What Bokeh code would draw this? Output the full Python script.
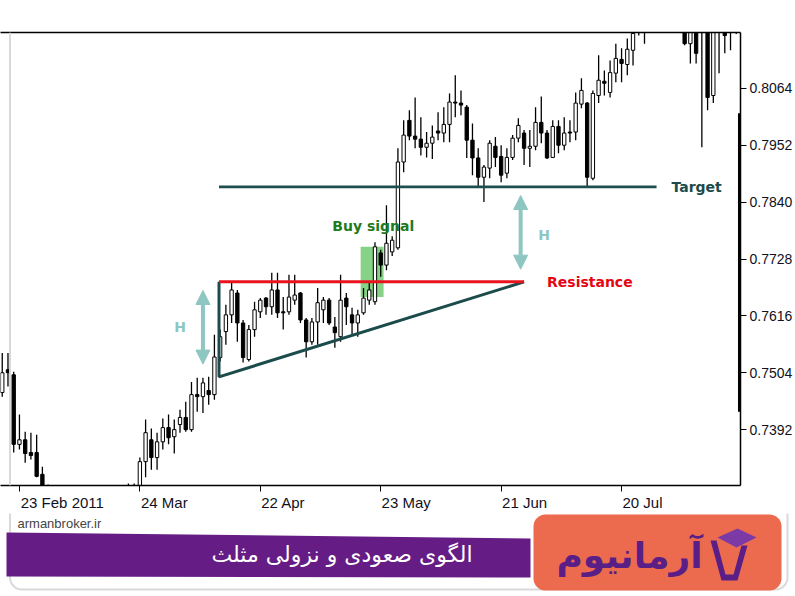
from bokeh.plotting import figure
from bokeh.models import (ColumnDataSource, LinearAxis, FixedTicker, PrintfTickFormatter, Range1d,
                          Label, BoxAnnotation, Span, Arrow, NormalHead)
from bokeh.core.properties import value
from bokeh.embed import file_html
from bokeh.resources import INLINE

# ---------------- data (daily bars, index = trading day from 23 Feb 2011) ----------------
bars = [-3, -2, -1, 0, 1, 2, 3, 4, 5, 19, 20, 21, 22, 23, 24, 25, 26, 27, 28, 29, 30, 31, 32, 33, 34,
        35, 36, 37, 38, 39, 40, 41, 42, 43, 44, 45, 46, 47, 48, 49, 50, 51, 52, 53, 54, 55, 56, 57, 58,
        59, 60, 61, 62, 63, 64, 65, 66, 67, 68, 69, 70, 71, 72, 73, 74, 75, 76, 77, 78, 79, 80, 81, 82,
        83, 84, 85, 86, 87, 88, 89, 90, 91, 92, 93, 94, 95, 96, 97, 98, 99, 100, 101, 102, 103, 104,
        105, 106, 107, 108, 109, 116, 117, 118, 119, 120, 121, 122, 123, 124, 125]
opens = [0.7465, 0.7510, 0.7500, 0.7363, 0.7372, 0.7347, 0.7347, 0.7304, 0.7268, 0.7262, 0.7270, 0.7274,
         0.7329, 0.7372, 0.7337, 0.7368, 0.7396, 0.7378, 0.7402, 0.7416, 0.7392, 0.7461, 0.7457, 0.7469,
         0.7461, 0.7534, 0.7585, 0.7618, 0.7661, 0.7602, 0.7530, 0.7589, 0.7624, 0.7651, 0.7634, 0.7667,
         0.7624, 0.7624, 0.7647, 0.7661, 0.7608, 0.7565, 0.7604, 0.7628, 0.7647, 0.7594, 0.7575, 0.7651,
         0.7618, 0.7602, 0.7622, 0.7647, 0.7644, 0.7740, 0.7716, 0.7742, 0.7750, 0.7919, 0.8001, 0.7970,
         0.7964, 0.7948, 0.7956, 0.7980, 0.7976, 0.7993, 0.8037, 0.8035, 0.8027, 0.7962, 0.7927, 0.7889,
         0.7907, 0.7950, 0.7930, 0.7897, 0.7928, 0.7966, 0.7976, 0.7946, 0.7950, 0.7997, 0.7976, 0.7928,
         0.7989, 0.7952, 0.7978, 0.7978, 0.8033, 0.8035, 0.7887, 0.8050, 0.8078, 0.8056, 0.8094, 0.8121,
         0.8111, 0.8139, 0.8180, 0.8195, 0.8190, 0.8152, 0.8185, 0.8185, 0.8178, 0.8050, 0.8183, 0.8179,
         0.8180, 0.8178]
highs = [0.7543, 0.7543, 0.7506, 0.7422, 0.7388, 0.7386, 0.7382, 0.7319, 0.7284, 0.7286, 0.7286, 0.7337,
         0.7412, 0.7394, 0.7386, 0.7414, 0.7422, 0.7412, 0.7431, 0.7447, 0.7486, 0.7494, 0.7494, 0.7496,
         0.7579, 0.7589, 0.7638, 0.7681, 0.7667, 0.7608, 0.7598, 0.7644, 0.7651, 0.7653, 0.7701, 0.7701,
         0.7653, 0.7697, 0.7697, 0.7663, 0.7612, 0.7612, 0.7671, 0.7653, 0.7651, 0.7614, 0.7697, 0.7661,
         0.7632, 0.7628, 0.7671, 0.7683, 0.7761, 0.7746, 0.7834, 0.7773, 0.7946, 0.8001, 0.8021, 0.8046,
         0.8007, 0.7978, 0.7991, 0.8017, 0.8027, 0.8054, 0.8090, 0.8060, 0.8031, 0.7995, 0.7946, 0.7913,
         0.7962, 0.7968, 0.7952, 0.7946, 0.7972, 0.8005, 0.7982, 0.7982, 0.8027, 0.8048, 0.7982, 0.8001,
         0.8001, 0.8007, 0.8001, 0.8056, 0.8084, 0.8037, 0.8060, 0.8129, 0.8099, 0.8119, 0.8152, 0.8143,
         0.8162, 0.8180, 0.8200, 0.8205, 0.8200, 0.8195, 0.8195, 0.8195, 0.8190, 0.8190, 0.8195, 0.8190,
         0.8192, 0.8190]
lows = [0.7457, 0.7477, 0.7347, 0.7353, 0.7327, 0.7333, 0.7298, 0.7250, 0.7238, 0.7248, 0.7256, 0.7264,
        0.7298, 0.7313, 0.7313, 0.7353, 0.7363, 0.7345, 0.7386, 0.7388, 0.7388, 0.7427, 0.7425, 0.7441,
        0.7451, 0.7526, 0.7559, 0.7602, 0.7565, 0.7524, 0.7526, 0.7575, 0.7612, 0.7618, 0.7618, 0.7612,
        0.7589, 0.7618, 0.7638, 0.7602, 0.7534, 0.7559, 0.7559, 0.7602, 0.7598, 0.7553, 0.7565, 0.7598,
        0.7579, 0.7575, 0.7618, 0.7638, 0.7638, 0.7693, 0.7706, 0.7734, 0.7746, 0.7899, 0.7962, 0.7946,
        0.7932, 0.7928, 0.7925, 0.7962, 0.7958, 0.7958, 0.8007, 0.8011, 0.7927, 0.7893, 0.7868, 0.7840,
        0.7887, 0.7909, 0.7879, 0.7887, 0.7923, 0.7958, 0.7913, 0.7909, 0.7942, 0.7956, 0.7925, 0.7927,
        0.7936, 0.7942, 0.7958, 0.7962, 0.8025, 0.7868, 0.7883, 0.8035, 0.8050, 0.8046, 0.8076, 0.8076,
        0.8090, 0.8109, 0.8168, 0.8152, 0.8149, 0.8113, 0.8113, 0.7948, 0.8021, 0.8035, 0.8094, 0.8133,
        0.8139, 0.8171]
closes = [0.7504, 0.7504, 0.7363, 0.7372, 0.7345, 0.7341, 0.7300, 0.7262, 0.7252, 0.7270, 0.7276, 0.7329,
          0.7386, 0.7337, 0.7368, 0.7396, 0.7376, 0.7392, 0.7416, 0.7392, 0.7461, 0.7457, 0.7484, 0.7461,
          0.7535, 0.7575, 0.7618, 0.7667, 0.7602, 0.7534, 0.7589, 0.7628, 0.7647, 0.7634, 0.7667, 0.7622,
          0.7622, 0.7653, 0.7657, 0.7608, 0.7565, 0.7604, 0.7642, 0.7647, 0.7602, 0.7583, 0.7647, 0.7634,
          0.7602, 0.7618, 0.7651, 0.7667, 0.7752, 0.7716, 0.7759, 0.7765, 0.7919, 0.7972, 0.7970, 0.7964,
          0.7948, 0.7956, 0.7968, 0.7976, 0.7993, 0.8037, 0.8035, 0.8031, 0.7962, 0.7927, 0.7889, 0.7909,
          0.7956, 0.7928, 0.7893, 0.7928, 0.7966, 0.7991, 0.7946, 0.7950, 0.7997, 0.7976, 0.7927, 0.7989,
          0.7952, 0.7976, 0.7976, 0.8035, 0.8060, 0.7889, 0.8054, 0.8080, 0.8074, 0.8095, 0.8123, 0.8113,
          0.8141, 0.8172, 0.8190, 0.8185, 0.8152, 0.8185, 0.8133, 0.8178, 0.8046, 0.8180, 0.8188, 0.8168,
          0.8186, 0.8183]

tick_bars = [0, 21, 42, 63, 84, 105]
tick_labels = ["23 Feb 2011", "24 Mar", "22 Apr", "23 May", "21 Jun", "20 Jul"]
price_ticks = [0.7392, 0.7504, 0.7616, 0.7728, 0.7840, 0.7952, 0.8064]

# ascending triangle pattern
resistance = 0.7683
support_start = 0.7496
pattern_height = resistance - support_start
target = resistance + pattern_height
pattern_start = 34.8
pattern_apex = 88.0
target_end = 111.1
signal_left, signal_right = 59.5, 63.5
signal_low, signal_high = 0.7653, 0.7752
scroll_low, scroll_high = 0.7427, 0.8015   # thick marker on the price scale

title_fa = "الگوی صعودی و نزولی مثلث"
brand_fa = "آرمانیوم"
site = "armanbroker.ir"

# ---------------- layout constants ----------------
W = 795
CHART_H = 513
BANNER_H = 596 - CHART_H
PX_PER_BAR = 5.75
label_half_px = [42, 23.5, 22, 24.5, 22.5, 20]   # MT4 draws date labels to the right of the tick
label_pos = [round(b + (1 + h) / PX_PER_BAR, 3) for b, h in zip(tick_bars, label_half_px)]

p = figure(width=W, height=CHART_H, output_backend="svg", toolbar_location=None,
           x_range=Range1d(-3.304, 125.74), y_range=Range1d(0.7282, 0.8174),
           x_axis_location=None, y_axis_location=None,
           min_border_left=0, min_border_right=53, min_border_top=32, min_border_bottom=27)
p.outline_line_color = None
p.grid.visible = False
p.background_fill_color = "white"
p.border_fill_color = "white"

ax_font = "Liberation Sans"
xaxis = LinearAxis(ticker=FixedTicker(ticks=label_pos, minor_ticks=tick_bars),
                   major_label_overrides=dict(zip(label_pos, tick_labels)))
xaxis.axis_line_width = 1.5
xaxis.major_tick_line_color = None
xaxis.major_tick_out = 6
xaxis.major_tick_in = 0
xaxis.minor_tick_out = 6
xaxis.minor_tick_in = 0
xaxis.minor_tick_line_color = "black"
xaxis.minor_tick_line_width = 1
xaxis.major_label_standoff = 2
xaxis.major_label_text_font = ax_font
xaxis.major_label_text_font_size = "15px"
xaxis.major_label_text_color = "#111122"
p.add_layout(xaxis, "below")

yaxis = LinearAxis(ticker=FixedTicker(ticks=price_ticks), formatter=PrintfTickFormatter(format="%.4f"))
yaxis.axis_line_width = 1.5
yaxis.major_tick_out = 6
yaxis.major_tick_in = 0
yaxis.minor_tick_out = 0
yaxis.major_label_standoff = 3
yaxis.major_label_text_font = ax_font
yaxis.major_label_text_font_size = "14px"
yaxis.major_label_text_color = "#111122"
p.add_layout(yaxis, "right")

topaxis = LinearAxis(ticker=FixedTicker(ticks=[]))
topaxis.axis_line_width = 1.5
topaxis.major_tick_out = 0
topaxis.major_tick_in = 0
topaxis.minor_tick_out = 0
p.add_layout(topaxis, "above")

# card border (left edge, light grey)
p.add_layout(Span(location=9.5, location_units="screen", dimension="height",
                  line_color="#d9d9d9", line_width=2))

# buy-signal zone (behind candles)
p.quad(left=[signal_left], right=[signal_right], bottom=[signal_low], top=[signal_high],
       fill_color="#86d286", line_color=None)

# candles
tops = [max(o, c) for o, c in zip(opens, closes)]
bottoms = [min(o, c) for o, c in zip(opens, closes)]
fills = ["white" if c >= o else "black" for o, c in zip(opens, closes)]
src = ColumnDataSource(dict(x=bars, high=highs, low=lows, top=tops, bottom=bottoms, fill=fills))
p.segment(x0="x", y0="low", x1="x", y1="high", source=src, line_color="black", line_width=1.3)
p.vbar(x="x", width=0.58, top="top", bottom="bottom", fill_color="fill", line_color="black",
       line_width=1, source=src)

# pattern lines
teal = "#1c4b4b"
p.line([pattern_start, target_end], [target, target], line_color="#1f4e4e", line_width=2.6)
p.line([pattern_start, pattern_start, pattern_apex], [resistance, support_start, resistance],
       line_color=teal, line_width=3)
p.line([pattern_start, pattern_apex], [resistance, resistance], line_color="#e8131c", line_width=3)

# H arrows
arrow_c = "#8ec6c1"
gap_top, gap_bot = 0.0017, 0.0025
for ax_x, lo, hi in [(32.0, support_start, resistance), (87.4, resistance, target)]:
    p.add_layout(Arrow(x_start=ax_x, y_start=lo + gap_bot, x_end=ax_x, y_end=hi - gap_top,
                       line_color=arrow_c, line_width=4,
                       start=NormalHead(size=14, fill_color=arrow_c, line_color=arrow_c),
                       end=NormalHead(size=14, fill_color=arrow_c, line_color=arrow_c)))

lab_font = "DejaVu Sans"
def lbl(x, y, text, color, align="left", size="14px"):
    p.add_layout(Label(x=x, y=y, text=text, text_color=color, text_font=lab_font,
                       text_font_style="bold", text_font_size=size, text_align=align,
                       text_baseline="middle"))

lbl(113.7, target, "Target", "#1d4a4a")
lbl(92.0, resistance, "Resistance", "#e30613")
lbl(61.7, 0.7793, "Buy signal", "#1e7b1e", align="center")
lbl(28.0, 0.7594, "H", arrow_c, align="center")
lbl(91.5, 0.7775, "H", arrow_c, align="center")

# thick marker on the price scale
p.add_layout(BoxAnnotation(left=125.3, right=125.74, bottom=scroll_low, top=scroll_high,
                           fill_color="black", fill_alpha=1, line_color=None))

# ---------------- branding strip (separate root, pixel coordinates, y downwards) ----------------
b = figure(width=W, height=BANNER_H, output_backend="svg", toolbar_location=None,
           x_range=Range1d(0, W), y_range=Range1d(596, CHART_H),
           x_axis_location=None, y_axis_location=None, min_border=0,
           min_border_left=0, min_border_right=0, min_border_top=0, min_border_bottom=0)
b.outline_line_color = None
b.grid.visible = False
b.background_fill_color = "white"
b.border_fill_color = "white"

# card border bottom
b.quad(left=[9.5], right=[787], top=[480], bottom=[589], fill_color=None,
       line_color="#d9d9d9", line_width=2, border_radius=12)

b.text(x=[17], y=[523], text=[site], text_font=value(ax_font), text_font_size="13px",
       text_color="#444444", text_baseline="middle")

b.patch(x=[6, 530, 530, 6], y=[532, 538, 577, 576], fill_color="#661c85", line_color=None)
b.text(x=[472], y=[554], text=[title_fa], text_font=value("DejaVu Sans"), text_font_size="22px",
       text_color="white", text_align="right", text_baseline="middle")

b.quad(left=[533], right=[781], top=[514], bottom=[590], fill_color="#ec6b4f", line_color=None,
       border_radius=12)
b.text(x=[702], y=[555], text=[brand_fa], text_font=value("DejaVu Sans"), text_font_style="bold",
       text_font_size="36px", text_color="#5a1f86", text_align="right", text_baseline="middle")
# logo: cup + mortarboard
b.patch(x=[710, 716, 725, 733, 741, 747, 737, 721], y=[540, 540, 574, 574, 545, 545, 580, 580],
        fill_color="#5a1f86", line_color=None)
b.patch(x=[717, 737, 756, 736], y=[537, 528, 537, 547], fill_color="#7b3aa6", line_color=None)

open("out.html", "w").write(file_html([p, b], INLINE))
